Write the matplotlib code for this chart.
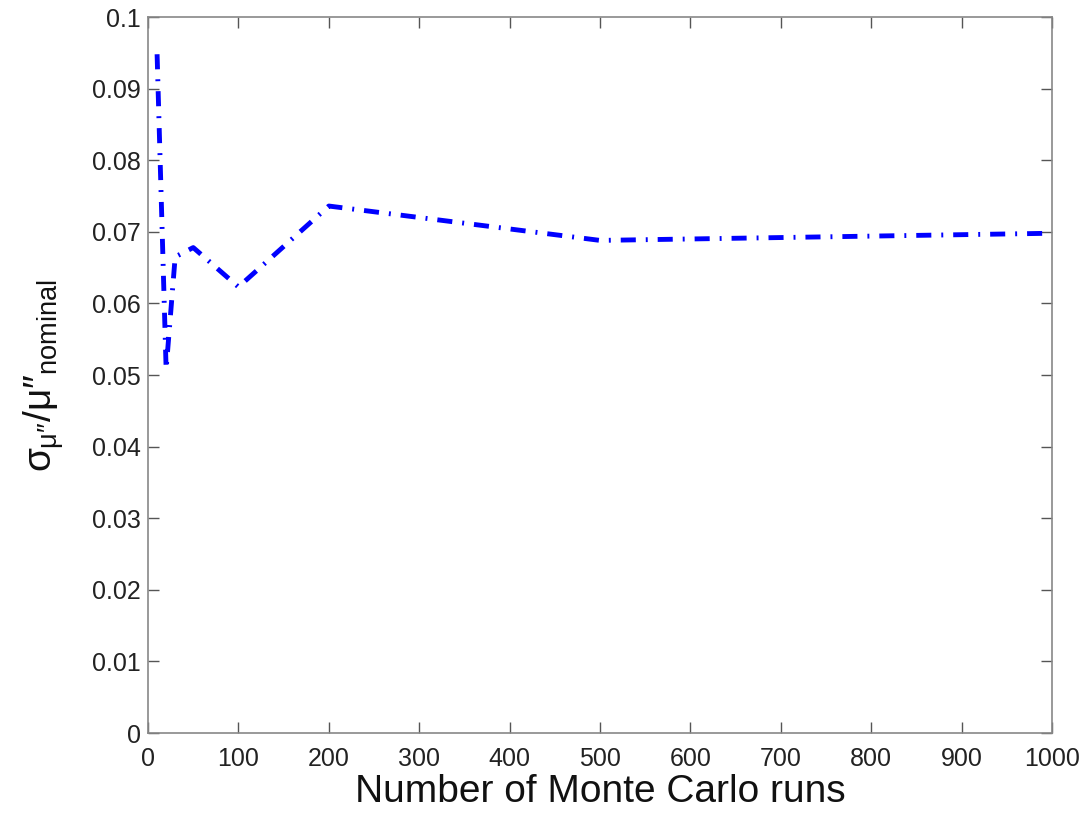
import matplotlib
matplotlib.use("Agg")
import matplotlib.pyplot as plt

plt.rcParams['font.family'] = ['Liberation Sans', 'DejaVu Sans']
plt.rcParams['mathtext.fontset'] = 'custom'
plt.rcParams['mathtext.rm'] = 'Liberation Sans'
plt.rcParams['mathtext.it'] = 'Liberation Sans'
plt.rcParams['mathtext.bf'] = 'Liberation Sans'

# Monte Carlo runs vs normalised std
runs = [10, 20, 30, 50, 100, 200, 500, 1000]
ratio = [0.0948, 0.0508, 0.0665, 0.0678, 0.0623, 0.0736, 0.0688, 0.0698]

xticks = list(range(0, 1001, 100))
yticks = [i / 100 for i in range(0, 11)]
ytick_labels = ['0'] + ['%.2f' % v for v in yticks[1:-1]] + ['0.1']

fig = plt.figure(figsize=(10.91, 8.18), dpi=100)
ax = fig.add_axes([0.1357, 0.1039, 0.8286, 0.8753])

ax.plot(runs, ratio, color='#0000ff', linewidth=3.5, linestyle=(0, (3.1, 2.05, 0.4, 2.05)))

ax.set_xlim(0, 1000)
ax.set_ylim(0, 0.1)
ax.set_xticks(xticks)
ax.set_yticks(yticks)
ax.set_yticklabels(ytick_labels)
ax.tick_params(direction='in', top=True, right=True, length=8, width=1,
               color='#555555', labelsize=18, labelcolor='#222222')
ax.tick_params(axis='x', pad=10)
ax.tick_params(axis='y', pad=5)
for s in ax.spines.values():
    s.set_color('#888888')
    s.set_linewidth(1.2)

ax.set_xlabel('Number of Monte Carlo runs', fontsize=28, color='#111111', labelpad=2)
ax.set_ylabel(r'$\sigma_{\mu″}/\mu″_{\mathrm{nominal}}$', fontsize=28, color='#111111', labelpad=18)

fig.savefig('out.png', dpi=100)
